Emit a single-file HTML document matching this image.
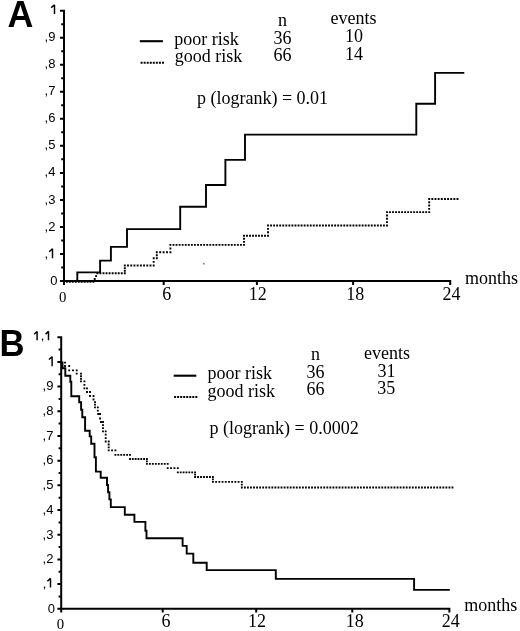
<!DOCTYPE html>
<html><head><meta charset="utf-8"><style>
html,body{margin:0;padding:0;background:#fff;}
body{width:520px;height:631px;overflow:hidden;position:relative;}
svg{position:absolute;left:0;top:0;display:block;filter:grayscale(1) blur(0.3px);}
</style></head><body>
<svg width="520" height="631" viewBox="0 0 520 631" fill="#000" shape-rendering="geometricPrecision">
<path d="M64,9.7V282 M63,281H451.2 M60,281H64 M60,253.97H64 M60,226.94H64 M60,199.91H64 M60,172.88H64 M60,145.85H64 M60,118.82H64 M60,91.79H64 M60,64.76H64 M60,37.73H64 M60,10.7H64 M61.2,267.49H64 M61.2,240.45H64 M61.2,213.43H64 M61.2,186.39H64 M61.2,159.37H64 M61.2,132.33H64 M61.2,105.31H64 M61.2,78.27H64 M61.2,51.25H64 M61.2,24.21H64 M64,281V285 M163.7,281V285 M256.9,281V285 M353.1,281V285 M450.2,281V285" stroke="#000" stroke-width="2" fill="none"/>
<path d="M64,281 H77.3 V272.4 H100.1 V260.6 H110.9 V246.9 H127 V229.1 H180.2 V206.8 H206 V185 H225.4 V159.9 H245 V134.6 H416.3 V103.7 H435.1 V72.9 H464.3" stroke="#000" stroke-width="1.9" fill="none" stroke-linejoin="miter"/>
<path d="M63.05,280.95h1.9v1.9h-1.9zM65.99,280.95h1.9v1.9h-1.9zM68.93,280.95h1.9v1.9h-1.9zM71.87,280.95h1.9v1.9h-1.9zM74.81,280.95h1.9v1.9h-1.9zM77.75,280.95h1.9v1.9h-1.9zM80.69,280.95h1.9v1.9h-1.9zM83.63,280.95h1.9v1.9h-1.9zM86.57,280.95h1.9v1.9h-1.9zM89.51,280.95h1.9v1.9h-1.9zM92.45,280.95h1.9v1.9h-1.9zM93.78,278.08h1.9v1.9h-1.9zM95.12,275.22h1.9v1.9h-1.9zM96.45,272.35h1.9v1.9h-1.9zM99.49,272.35h1.9v1.9h-1.9zM102.54,272.35h1.9v1.9h-1.9zM105.58,272.35h1.9v1.9h-1.9zM108.63,272.35h1.9v1.9h-1.9zM111.67,272.35h1.9v1.9h-1.9zM114.72,272.35h1.9v1.9h-1.9zM117.76,272.35h1.9v1.9h-1.9zM120.81,272.35h1.9v1.9h-1.9zM123.85,272.35h1.9v1.9h-1.9zM123.85,269.75h1.9v1.9h-1.9zM123.85,267.15h1.9v1.9h-1.9zM123.85,264.55h1.9v1.9h-1.9zM127.06,264.55h1.9v1.9h-1.9zM130.27,264.55h1.9v1.9h-1.9zM133.48,264.55h1.9v1.9h-1.9zM136.69,264.55h1.9v1.9h-1.9zM139.91,264.55h1.9v1.9h-1.9zM143.12,264.55h1.9v1.9h-1.9zM146.33,264.55h1.9v1.9h-1.9zM149.54,264.55h1.9v1.9h-1.9zM152.75,264.55h1.9v1.9h-1.9zM152.75,260.9h1.9v1.9h-1.9zM152.75,257.25h1.9v1.9h-1.9zM155.85,257.25h1.9v1.9h-1.9zM155.85,254.25h1.9v1.9h-1.9zM155.85,251.25h1.9v1.9h-1.9zM159.25,251.25h1.9v1.9h-1.9zM162.65,251.25h1.9v1.9h-1.9zM166.05,251.25h1.9v1.9h-1.9zM169.45,251.25h1.9v1.9h-1.9zM169.45,247.6h1.9v1.9h-1.9zM169.45,243.95h1.9v1.9h-1.9zM172.52,243.95h1.9v1.9h-1.9zM175.58,243.95h1.9v1.9h-1.9zM178.65,243.95h1.9v1.9h-1.9zM181.72,243.95h1.9v1.9h-1.9zM184.78,243.95h1.9v1.9h-1.9zM187.85,243.95h1.9v1.9h-1.9zM190.92,243.95h1.9v1.9h-1.9zM193.98,243.95h1.9v1.9h-1.9zM197.05,243.95h1.9v1.9h-1.9zM200.12,243.95h1.9v1.9h-1.9zM203.18,243.95h1.9v1.9h-1.9zM206.25,243.95h1.9v1.9h-1.9zM209.32,243.95h1.9v1.9h-1.9zM212.38,243.95h1.9v1.9h-1.9zM215.45,243.95h1.9v1.9h-1.9zM218.52,243.95h1.9v1.9h-1.9zM221.58,243.95h1.9v1.9h-1.9zM224.65,243.95h1.9v1.9h-1.9zM227.72,243.95h1.9v1.9h-1.9zM230.78,243.95h1.9v1.9h-1.9zM233.85,243.95h1.9v1.9h-1.9zM236.92,243.95h1.9v1.9h-1.9zM239.98,243.95h1.9v1.9h-1.9zM243.05,243.95h1.9v1.9h-1.9zM243.05,240.88h1.9v1.9h-1.9zM243.05,237.82h1.9v1.9h-1.9zM243.05,234.75h1.9v1.9h-1.9zM246.05,234.75h1.9v1.9h-1.9zM249.05,234.75h1.9v1.9h-1.9zM252.05,234.75h1.9v1.9h-1.9zM255.05,234.75h1.9v1.9h-1.9zM258.05,234.75h1.9v1.9h-1.9zM261.05,234.75h1.9v1.9h-1.9zM264.05,234.75h1.9v1.9h-1.9zM267.05,234.75h1.9v1.9h-1.9zM267.05,231.35h1.9v1.9h-1.9zM267.05,227.95h1.9v1.9h-1.9zM267.05,224.55h1.9v1.9h-1.9zM270.1,224.55h1.9v1.9h-1.9zM273.15,224.55h1.9v1.9h-1.9zM276.2,224.55h1.9v1.9h-1.9zM279.26,224.55h1.9v1.9h-1.9zM282.31,224.55h1.9v1.9h-1.9zM285.36,224.55h1.9v1.9h-1.9zM288.41,224.55h1.9v1.9h-1.9zM291.46,224.55h1.9v1.9h-1.9zM294.51,224.55h1.9v1.9h-1.9zM297.56,224.55h1.9v1.9h-1.9zM300.61,224.55h1.9v1.9h-1.9zM303.67,224.55h1.9v1.9h-1.9zM306.72,224.55h1.9v1.9h-1.9zM309.77,224.55h1.9v1.9h-1.9zM312.82,224.55h1.9v1.9h-1.9zM315.87,224.55h1.9v1.9h-1.9zM318.92,224.55h1.9v1.9h-1.9zM321.97,224.55h1.9v1.9h-1.9zM325.02,224.55h1.9v1.9h-1.9zM328.08,224.55h1.9v1.9h-1.9zM331.13,224.55h1.9v1.9h-1.9zM334.18,224.55h1.9v1.9h-1.9zM337.23,224.55h1.9v1.9h-1.9zM340.28,224.55h1.9v1.9h-1.9zM343.33,224.55h1.9v1.9h-1.9zM346.38,224.55h1.9v1.9h-1.9zM349.43,224.55h1.9v1.9h-1.9zM352.49,224.55h1.9v1.9h-1.9zM355.54,224.55h1.9v1.9h-1.9zM358.59,224.55h1.9v1.9h-1.9zM361.64,224.55h1.9v1.9h-1.9zM364.69,224.55h1.9v1.9h-1.9zM367.74,224.55h1.9v1.9h-1.9zM370.79,224.55h1.9v1.9h-1.9zM373.84,224.55h1.9v1.9h-1.9zM376.9,224.55h1.9v1.9h-1.9zM379.95,224.55h1.9v1.9h-1.9zM383,224.55h1.9v1.9h-1.9zM386.05,224.55h1.9v1.9h-1.9zM386.05,221.2h1.9v1.9h-1.9zM386.05,217.85h1.9v1.9h-1.9zM386.05,214.5h1.9v1.9h-1.9zM386.05,211.15h1.9v1.9h-1.9zM389.06,211.15h1.9v1.9h-1.9zM392.08,211.15h1.9v1.9h-1.9zM395.09,211.15h1.9v1.9h-1.9zM398.11,211.15h1.9v1.9h-1.9zM401.12,211.15h1.9v1.9h-1.9zM404.14,211.15h1.9v1.9h-1.9zM407.15,211.15h1.9v1.9h-1.9zM410.16,211.15h1.9v1.9h-1.9zM413.18,211.15h1.9v1.9h-1.9zM416.19,211.15h1.9v1.9h-1.9zM419.21,211.15h1.9v1.9h-1.9zM422.22,211.15h1.9v1.9h-1.9zM425.24,211.15h1.9v1.9h-1.9zM428.25,211.15h1.9v1.9h-1.9zM428.25,207.88h1.9v1.9h-1.9zM428.25,204.6h1.9v1.9h-1.9zM428.25,201.33h1.9v1.9h-1.9zM428.25,198.05h1.9v1.9h-1.9zM431.39,198.05h1.9v1.9h-1.9zM434.54,198.05h1.9v1.9h-1.9zM437.68,198.05h1.9v1.9h-1.9zM440.83,198.05h1.9v1.9h-1.9zM443.97,198.05h1.9v1.9h-1.9zM447.12,198.05h1.9v1.9h-1.9zM450.26,198.05h1.9v1.9h-1.9zM453.41,198.05h1.9v1.9h-1.9zM456.55,198.05h1.9v1.9h-1.9z" fill="#000"/>
<text x="57.4" y="284.6" text-anchor="end" font-family='"Liberation Sans", sans-serif' font-size="13">0</text>
<text x="48" y="257.57" text-anchor="end" font-family='"Liberation Sans", sans-serif' font-size="13">,</text>
<text x="55.4" y="230.54" text-anchor="end" font-family='"Liberation Sans", sans-serif' font-size="13">,2</text>
<text x="55.4" y="203.51" text-anchor="end" font-family='"Liberation Sans", sans-serif' font-size="13">,3</text>
<text x="55.4" y="176.48" text-anchor="end" font-family='"Liberation Sans", sans-serif' font-size="13">,4</text>
<text x="55.4" y="149.45" text-anchor="end" font-family='"Liberation Sans", sans-serif' font-size="13">,5</text>
<text x="55.4" y="122.42" text-anchor="end" font-family='"Liberation Sans", sans-serif' font-size="13">,6</text>
<text x="55.4" y="95.39" text-anchor="end" font-family='"Liberation Sans", sans-serif' font-size="13">,7</text>
<text x="55.4" y="68.36" text-anchor="end" font-family='"Liberation Sans", sans-serif' font-size="13">,8</text>
<text x="55.4" y="41.33" text-anchor="end" font-family='"Liberation Sans", sans-serif' font-size="13">,9</text>
<text x="62.6" y="301.7" text-anchor="middle" font-family='"Liberation Serif", serif' font-size="14.8">0</text>
<text x="166.7" y="299.8" text-anchor="middle" font-family='"Liberation Serif", serif' font-size="18">6</text>
<text x="257.7" y="299.8" text-anchor="middle" font-family='"Liberation Serif", serif' font-size="18">12</text>
<text x="355.2" y="299.8" text-anchor="middle" font-family='"Liberation Serif", serif' font-size="18">18</text>
<text x="451.4" y="299.8" text-anchor="middle" font-family='"Liberation Serif", serif' font-size="18">24</text>
<text x="465" y="284.3" font-family='"Liberation Serif", serif' font-size="18">months</text>
<path d="M139.8,41.2H162.9" stroke="#000" stroke-width="2.1"/>
<path d="M140.6,62.8H164" stroke="#000" stroke-width="2" stroke-dasharray="2 1.05"/>
<text x="174.3" y="44.6" font-family='"Liberation Serif", serif' font-size="18">poor risk</text>
<text x="174.7" y="61.5" font-family='"Liberation Serif", serif' font-size="18">good risk</text>
<text x="282.6" y="25.7" text-anchor="middle" font-family='"Liberation Serif", serif' font-size="18">n</text>
<text x="353.4" y="24.2" text-anchor="middle" font-family='"Liberation Serif", serif' font-size="18">events</text>
<text x="282.4" y="43.5" text-anchor="middle" font-family='"Liberation Serif", serif' font-size="18">36</text>
<text x="354" y="42.4" text-anchor="middle" font-family='"Liberation Serif", serif' font-size="18">10</text>
<text x="282.4" y="61" text-anchor="middle" font-family='"Liberation Serif", serif' font-size="18">66</text>
<text x="354" y="59.9" text-anchor="middle" font-family='"Liberation Serif", serif' font-size="18">14</text>
<text x="197" y="104" font-family='"Liberation Serif", serif' font-size="18">p (logrank) = 0.01</text>
<text x="0" y="27.4" transform="matrix(0.953,0,0,1,7.43,0)" font-family='"Liberation Sans", sans-serif' font-size="37.6" font-weight="bold">A</text>
<path d="M61.2,336.2V609.8 M60.2,608.8H450.4 M57.4,608.8H61.2 M57.4,584.11H61.2 M57.4,559.42H61.2 M57.4,534.73H61.2 M57.4,510.04H61.2 M57.4,485.35H61.2 M57.4,460.65H61.2 M57.4,435.96H61.2 M57.4,411.27H61.2 M57.4,386.58H61.2 M57.4,361.89H61.2 M57.4,337.2H61.2 M58.6,596.45H61.2 M58.6,571.76H61.2 M58.6,547.07H61.2 M58.6,522.38H61.2 M58.6,497.69H61.2 M58.6,473H61.2 M58.6,448.31H61.2 M58.6,423.62H61.2 M58.6,398.93H61.2 M58.6,374.24H61.2 M58.6,349.55H61.2 M61.2,608.8V612.4 M162.7,608.8V612.4 M256.2,608.8V612.4 M352.3,608.8V612.4 M449.4,608.8V612.4" stroke="#000" stroke-width="2" fill="none"/>
<path d="M61.2,362.5 H62.5 V368.2 H65.3 V375.7 H70.3 V381.7 H71.3 V396.3 H79.2 V402.3 H81.1 V409.7 H82.3 V417.3 H85.1 V430.7 H89.7 V436.4 H91.2 V443.8 H94.5 V457.3 H95.9 V471.6 H100.7 V477.7 H107 V485 H108.1 V492.3 H109.4 V499.4 H110.8 V507.1 H124.8 V514.8 H134.4 V521.9 H145.4 V530.8 H146.5 V538.3 H182.6 V545.9 H186.7 V553.6 H193.3 V562.7 H206.7 V570.1 H275.8 V578.9 H414.1 V589.9 H449.8" stroke="#000" stroke-width="1.9" fill="none"/>
<path d="M60.28,361.68h1.85v1.85h-1.85zM64.08,361.68h1.85v1.85h-1.85zM64.08,365.07h1.85v1.85h-1.85zM68.28,365.07h1.85v1.85h-1.85zM68.28,369.38h1.85v1.85h-1.85zM72.03,369.38h1.85v1.85h-1.85zM75.78,369.38h1.85v1.85h-1.85zM75.78,372.77h1.85v1.85h-1.85zM80.08,372.77h1.85v1.85h-1.85zM80.08,375.34h1.85v1.85h-1.85zM80.08,377.91h1.85v1.85h-1.85zM80.08,380.47h1.85v1.85h-1.85zM83.48,380.47h1.85v1.85h-1.85zM83.48,383.93h1.85v1.85h-1.85zM83.48,387.38h1.85v1.85h-1.85zM86.08,387.38h1.85v1.85h-1.85zM86.08,391.07h1.85v1.85h-1.85zM89.08,391.07h1.85v1.85h-1.85zM89.08,395.07h1.85v1.85h-1.85zM92.58,395.07h1.85v1.85h-1.85zM92.58,398.57h1.85v1.85h-1.85zM94.08,401.18h1.85v1.85h-1.85zM94.08,403.77h1.85v1.85h-1.85zM94.08,406.38h1.85v1.85h-1.85zM96.88,406.38h1.85v1.85h-1.85zM96.88,409.77h1.85v1.85h-1.85zM97.28,413.07h1.85v1.85h-1.85zM99.17,413.07h1.85v1.85h-1.85zM99.17,417.57h1.85v1.85h-1.85zM100.08,421.07h1.85v1.85h-1.85zM102.08,421.07h1.85v1.85h-1.85zM102.08,424.18h1.85v1.85h-1.85zM102.08,427.27h1.85v1.85h-1.85zM102.08,430.38h1.85v1.85h-1.85zM104.78,430.38h1.85v1.85h-1.85zM104.78,433.77h1.85v1.85h-1.85zM104.78,437.18h1.85v1.85h-1.85zM104.78,440.57h1.85v1.85h-1.85zM107.78,440.57h1.85v1.85h-1.85zM107.78,443.54h1.85v1.85h-1.85zM107.78,446.51h1.85v1.85h-1.85zM107.78,449.47h1.85v1.85h-1.85zM111.13,449.47h1.85v1.85h-1.85zM114.48,449.47h1.85v1.85h-1.85zM114.48,453.88h1.85v1.85h-1.85zM117.4,453.88h1.85v1.85h-1.85zM120.32,453.88h1.85v1.85h-1.85zM123.23,453.88h1.85v1.85h-1.85zM126.16,453.88h1.85v1.85h-1.85zM129.07,453.88h1.85v1.85h-1.85zM129.07,458.07h1.85v1.85h-1.85zM131.89,458.07h1.85v1.85h-1.85zM134.71,458.07h1.85v1.85h-1.85zM137.52,458.07h1.85v1.85h-1.85zM140.34,458.07h1.85v1.85h-1.85zM143.16,458.07h1.85v1.85h-1.85zM145.97,458.07h1.85v1.85h-1.85zM145.97,460.47h1.85v1.85h-1.85zM145.97,462.88h1.85v1.85h-1.85zM148.95,462.88h1.85v1.85h-1.85zM151.92,462.88h1.85v1.85h-1.85zM154.89,462.88h1.85v1.85h-1.85zM157.86,462.88h1.85v1.85h-1.85zM160.83,462.88h1.85v1.85h-1.85zM163.8,462.88h1.85v1.85h-1.85zM166.77,462.88h1.85v1.85h-1.85zM166.77,467.27h1.85v1.85h-1.85zM170.14,467.27h1.85v1.85h-1.85zM173.51,467.27h1.85v1.85h-1.85zM176.88,467.27h1.85v1.85h-1.85zM176.88,471.38h1.85v1.85h-1.85zM179.76,471.38h1.85v1.85h-1.85zM182.64,471.38h1.85v1.85h-1.85zM185.52,471.38h1.85v1.85h-1.85zM188.41,471.38h1.85v1.85h-1.85zM191.29,471.38h1.85v1.85h-1.85zM194.17,471.38h1.85v1.85h-1.85zM194.17,473.72h1.85v1.85h-1.85zM194.17,476.07h1.85v1.85h-1.85zM197.14,476.07h1.85v1.85h-1.85zM200.11,476.07h1.85v1.85h-1.85zM203.07,476.07h1.85v1.85h-1.85zM206.04,476.07h1.85v1.85h-1.85zM209.01,476.07h1.85v1.85h-1.85zM211.97,476.07h1.85v1.85h-1.85zM211.97,478.47h1.85v1.85h-1.85zM211.97,480.88h1.85v1.85h-1.85zM215.19,480.88h1.85v1.85h-1.85zM218.4,480.88h1.85v1.85h-1.85zM221.61,480.88h1.85v1.85h-1.85zM224.82,480.88h1.85v1.85h-1.85zM228.03,480.88h1.85v1.85h-1.85zM231.24,480.88h1.85v1.85h-1.85zM234.45,480.88h1.85v1.85h-1.85zM237.66,480.88h1.85v1.85h-1.85zM240.88,480.88h1.85v1.85h-1.85zM240.88,483.72h1.85v1.85h-1.85zM240.88,486.57h1.85v1.85h-1.85zM243.93,486.57h1.85v1.85h-1.85zM246.98,486.57h1.85v1.85h-1.85zM250.04,486.57h1.85v1.85h-1.85zM253.09,486.57h1.85v1.85h-1.85zM256.14,486.57h1.85v1.85h-1.85zM259.2,486.57h1.85v1.85h-1.85zM262.25,486.57h1.85v1.85h-1.85zM265.3,486.57h1.85v1.85h-1.85zM268.36,486.57h1.85v1.85h-1.85zM271.41,486.57h1.85v1.85h-1.85zM274.46,486.57h1.85v1.85h-1.85zM277.52,486.57h1.85v1.85h-1.85zM280.57,486.57h1.85v1.85h-1.85zM283.63,486.57h1.85v1.85h-1.85zM286.68,486.57h1.85v1.85h-1.85zM289.73,486.57h1.85v1.85h-1.85zM292.79,486.57h1.85v1.85h-1.85zM295.84,486.57h1.85v1.85h-1.85zM298.89,486.57h1.85v1.85h-1.85zM301.95,486.57h1.85v1.85h-1.85zM305,486.57h1.85v1.85h-1.85zM308.05,486.57h1.85v1.85h-1.85zM311.11,486.57h1.85v1.85h-1.85zM314.16,486.57h1.85v1.85h-1.85zM317.22,486.57h1.85v1.85h-1.85zM320.27,486.57h1.85v1.85h-1.85zM323.32,486.57h1.85v1.85h-1.85zM326.38,486.57h1.85v1.85h-1.85zM329.43,486.57h1.85v1.85h-1.85zM332.48,486.57h1.85v1.85h-1.85zM335.54,486.57h1.85v1.85h-1.85zM338.59,486.57h1.85v1.85h-1.85zM341.64,486.57h1.85v1.85h-1.85zM344.7,486.57h1.85v1.85h-1.85zM347.75,486.57h1.85v1.85h-1.85zM350.81,486.57h1.85v1.85h-1.85zM353.86,486.57h1.85v1.85h-1.85zM356.91,486.57h1.85v1.85h-1.85zM359.97,486.57h1.85v1.85h-1.85zM363.02,486.57h1.85v1.85h-1.85zM366.07,486.57h1.85v1.85h-1.85zM369.13,486.57h1.85v1.85h-1.85zM372.18,486.57h1.85v1.85h-1.85zM375.23,486.57h1.85v1.85h-1.85zM378.29,486.57h1.85v1.85h-1.85zM381.34,486.57h1.85v1.85h-1.85zM384.4,486.57h1.85v1.85h-1.85zM387.45,486.57h1.85v1.85h-1.85zM390.5,486.57h1.85v1.85h-1.85zM393.56,486.57h1.85v1.85h-1.85zM396.61,486.57h1.85v1.85h-1.85zM399.66,486.57h1.85v1.85h-1.85zM402.72,486.57h1.85v1.85h-1.85zM405.77,486.57h1.85v1.85h-1.85zM408.82,486.57h1.85v1.85h-1.85zM411.88,486.57h1.85v1.85h-1.85zM414.93,486.57h1.85v1.85h-1.85zM417.99,486.57h1.85v1.85h-1.85zM421.04,486.57h1.85v1.85h-1.85zM424.09,486.57h1.85v1.85h-1.85zM427.15,486.57h1.85v1.85h-1.85zM430.2,486.57h1.85v1.85h-1.85zM433.25,486.57h1.85v1.85h-1.85zM436.31,486.57h1.85v1.85h-1.85zM439.36,486.57h1.85v1.85h-1.85zM442.41,486.57h1.85v1.85h-1.85zM445.47,486.57h1.85v1.85h-1.85zM448.52,486.57h1.85v1.85h-1.85zM451.57,486.57h1.85v1.85h-1.85z" fill="#000"/>
<text x="55.1" y="612.6" text-anchor="end" font-family='"Liberation Sans", sans-serif' font-size="13">0</text>
<text x="46.3" y="587.91" text-anchor="end" font-family='"Liberation Sans", sans-serif' font-size="13">,</text>
<text x="53.4" y="563.22" text-anchor="end" font-family='"Liberation Sans", sans-serif' font-size="13">,2</text>
<text x="53.4" y="538.53" text-anchor="end" font-family='"Liberation Sans", sans-serif' font-size="13">,3</text>
<text x="53.4" y="513.84" text-anchor="end" font-family='"Liberation Sans", sans-serif' font-size="13">,4</text>
<text x="53.4" y="489.15" text-anchor="end" font-family='"Liberation Sans", sans-serif' font-size="13">,5</text>
<text x="53.4" y="464.45" text-anchor="end" font-family='"Liberation Sans", sans-serif' font-size="13">,6</text>
<text x="53.4" y="439.76" text-anchor="end" font-family='"Liberation Sans", sans-serif' font-size="13">,7</text>
<text x="53.4" y="415.07" text-anchor="end" font-family='"Liberation Sans", sans-serif' font-size="13">,8</text>
<text x="53.4" y="390.38" text-anchor="end" font-family='"Liberation Sans", sans-serif' font-size="13">,9</text>
<text x="44.3" y="340.3" text-anchor="end" font-family='"Liberation Sans", sans-serif' font-size="13">,</text>
<path d="M49.2,251.7L52.5,248.8V258.3 M51.2,7.6L54.5,4.9V13.9 M47.4,581.2L50.5,578.4V587.5 M48.9,359.5L52.1,356.7V366.2 M34.2,334.3L37.1,331.4V340.3 M45.6,334.1L48.5,331.4V340.3" stroke="#000" stroke-width="1.45" fill="none" stroke-linejoin="bevel"/>
<text x="60.4" y="629" text-anchor="middle" font-family='"Liberation Serif", serif' font-size="14.8">0</text>
<text x="166" y="627.2" text-anchor="middle" font-family='"Liberation Serif", serif' font-size="18">6</text>
<text x="256.9" y="627.2" text-anchor="middle" font-family='"Liberation Serif", serif' font-size="18">12</text>
<text x="354.8" y="627.2" text-anchor="middle" font-family='"Liberation Serif", serif' font-size="18">18</text>
<text x="450.75" y="627.2" text-anchor="middle" font-family='"Liberation Serif", serif' font-size="18">24</text>
<text x="464.3" y="611.4" font-family='"Liberation Serif", serif' font-size="18">months</text>
<path d="M173.7,375.7H196.3" stroke="#000" stroke-width="2.1"/>
<path d="M174.1,396.9H198.3" stroke="#000" stroke-width="2" stroke-dasharray="2 1.03"/>
<text x="207.4" y="378.9" font-family='"Liberation Serif", serif' font-size="18">poor risk</text>
<text x="207.4" y="396.6" font-family='"Liberation Serif", serif' font-size="18">good risk</text>
<text x="315.6" y="359.6" text-anchor="middle" font-family='"Liberation Serif", serif' font-size="18">n</text>
<text x="387" y="358.5" text-anchor="middle" font-family='"Liberation Serif", serif' font-size="18">events</text>
<text x="315.4" y="378" text-anchor="middle" font-family='"Liberation Serif", serif' font-size="18">36</text>
<text x="386.4" y="377" text-anchor="middle" font-family='"Liberation Serif", serif' font-size="18">31</text>
<text x="315.4" y="395.4" text-anchor="middle" font-family='"Liberation Serif", serif' font-size="18">66</text>
<text x="386.2" y="393.8" text-anchor="middle" font-family='"Liberation Serif", serif' font-size="18">35</text>
<text x="209.6" y="433.8" font-family='"Liberation Serif", serif' font-size="18">p (logrank) = 0.0002</text>
<text x="0" y="356.2" transform="matrix(0.922,0,0,1,-0.41,0)" font-family='"Liberation Sans", sans-serif' font-size="37.6" font-weight="bold">B</text>
<circle cx="203.8" cy="263.7" r="0.9" fill="#777"/>
</svg>
</body></html>
